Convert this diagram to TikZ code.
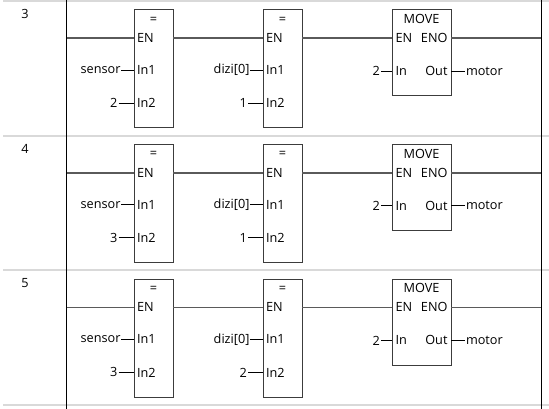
\documentclass[tikz,border=0pt]{standalone}
\usepackage{fontspec}
\setmainfont{Open Sans}
\definecolor{sepc}{HTML}{D9D9D9}
\definecolor{wirec}{HTML}{5A5A5A}
\definecolor{boxc}{HTML}{3C3C3C}
\definecolor{txtc}{HTML}{000000}
\begin{document}
\begin{tikzpicture}[x=1pt,y=-1pt,
  every node/.style={inner sep=0pt,outer sep=0pt,text=txtc,font=\fontsize{12.7}{14}\selectfont},
  sepline/.style={sepc,line width=2pt},
  rail/.style={black,line width=1pt},
  wire/.style={wirec,line width=1.7pt},
  stub/.style={txtc,line width=0.9pt},
  fblock/.style={draw=boxc,line width=1pt,fill=white,anchor=north west,minimum width=39pt,minimum height=118pt},
  mblock/.style={draw=boxc,line width=1pt,fill=white,anchor=north west,minimum width=59pt,minimum height=86pt},
  pinl/.style={anchor=west},
  pinr/.style={anchor=east},
  ext/.style={anchor=east},
  extr/.style={anchor=west}]
\useasboundingbox (0,0) rectangle (549,409);
\fill[white] (0,0) rectangle (549,409);
% rails
\coordinate (lt) at (66.5,0); \coordinate (lb) at (66.5,409);
\coordinate (rt) at (541,0); \coordinate (rb) at (541,409);
% separators
\foreach \k/\yy in {0/1,1/135.7,2/270.4,3/405.1}{
  \coordinate (sl\k) at (3,\yy); \coordinate (sr\k) at (549,\yy);
  \draw[sepline] (sl\k) -- (sr\k);
}
\draw[rail] (lt) -- (lb);
\draw[rail] (rt) -- (rb);
\foreach \k/\num/\va/\vb in {0/3/2/1,1/4/3/1,2/5/3/2}{
  \pgfmathsetmacro{\Y}{1+134.7*\k}
  \node (n\k) at (25,\Y+13) {\num};
  % blocks
  \node[fblock] (a\k) at (134,\Y+9) {};
  \node[fblock] (b\k) at (263,\Y+9) {};
  \node[mblock] (m\k) at (392,\Y+9) {};
  % block 1 texts
  \node (at\k) at (153.5,\Y+19) {=};
  \node[pinl] (aen\k) at (137,\Y+37) {EN};
  \node[pinl] (ai1\k) at (137,\Y+69) {In1};
  \node[pinl] (ai2\k) at (137,\Y+102) {In2};
  % block 2 texts
  \node (bt\k) at (282.5,\Y+19) {=};
  \node[pinl] (ben\k) at (266,\Y+37) {EN};
  \node[pinl] (bi1\k) at (266,\Y+69) {In1};
  \node[pinl] (bi2\k) at (266,\Y+102) {In2};
  % move texts
  \node (mt\k) at (421.5,\Y+18) {MOVE};
  \node[pinl] (men\k) at (395.5,\Y+37) {EN};
  \node[pinr] (meno\k) at (447.5,\Y+37) {ENO};
  \node[pinl] (min\k) at (395.5,\Y+70) {In};
  \node[pinr] (mout\k) at (447.5,\Y+70) {Out};
  % external operands
  \node[ext] (xs\k) at (120.5,\Y+69) {sensor};
  \node[ext] (xa\k) at (117.5,\Y+102) {\va};
  \node[ext] (xd\k) at (249.5,\Y+69) {dizi[0]};
  \node[ext] (xb\k) at (247,\Y+102) {\vb};
  \node[ext] (xm\k) at (380,\Y+70) {2};
  \node[extr] (xo\k) at (466,\Y+70) {motor};
  \draw[stub] (xs\k.east) ++(0.5,0) -- (a\k.west |- xs\k.east);
  \draw[stub] (xa\k.east) ++(1,0) -- (a\k.west |- xa\k.east);
  \draw[stub] (xd\k.east) ++(0.5,0) -- (b\k.west |- xd\k.east);
  \draw[stub] (xb\k.east) ++(1,0) -- (b\k.west |- xb\k.east);
  \draw[stub] (xm\k.east) ++(1,0) -- (m\k.west |- xm\k.east);
  \draw[stub] (m\k.east |- xo\k.west) -- ([xshift=-1pt]xo\k.west);
  % power flow
  \coordinate (pl\k) at (66.5,\Y+37);
  \coordinate (pr\k) at (541,\Y+37);
  \draw[wire] (pl\k) -- (a\k.west |- pl\k);
  \draw[wire] (a\k.east |- pl\k) -- (b\k.west |- pl\k);
  \draw[wire] (b\k.east |- pl\k) -- (m\k.west |- pl\k);
  \draw[wire] (m\k.east |- pl\k) -- (pr\k);
}
\end{tikzpicture}
\end{document}
